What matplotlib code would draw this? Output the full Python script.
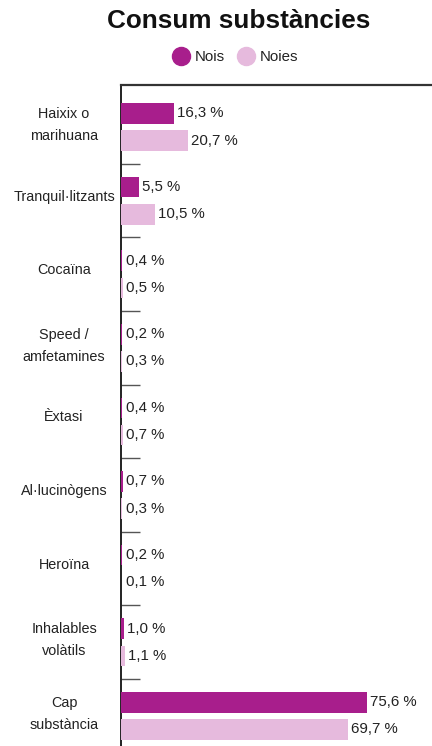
import matplotlib
matplotlib.use("Agg")
import matplotlib.pyplot as plt
import matplotlib.transforms as mtransforms
from matplotlib.lines import Line2D
import numpy as np

categories = ["Haixix o\nmarihuana", "Tranquil·litzants", "Cocaïna", "Speed /\namfetamines",
              "Èxtasi", "Al·lucinògens", "Heroïna", "Inhalables\nvolàtils", "Cap\nsubstància"]
nois = [16.3, 5.5, 0.4, 0.2, 0.4, 0.7, 0.2, 1.0, 75.6]
noies = [20.7, 10.5, 0.5, 0.3, 0.7, 0.3, 0.1, 1.1, 69.7]
series_names = ["Nois", "Noies"]
colors = ["#a81e8c", "#e6badd"]

plt.rcParams['font.family'] = ['Liberation Sans', 'DejaVu Sans']

W, H = 432, 746
fig = plt.figure(figsize=(W / 100, H / 100), dpi=100)
ax = fig.add_axes([121 / W, 0, 311 / W, (H - 85) / H])

y = np.arange(len(categories))
off = 0.185
bh = 0.28
ax.barh(y - off, nois, height=bh, color=colors[0], zorder=3)
ax.barh(y + off, noies, height=bh, color=colors[1], zorder=3)

xmax = 311 / 3.25
ax.set_xlim(0, xmax)
ax.set_ylim(8.41, -0.571)

pad_units = 3 / 3.25
for yi, v in zip(y - off, nois):
    ax.text(max(v, 0.6) + pad_units, yi, f"{v:.1f} %".replace(".", ","), va="center", ha="left",
            fontsize=10.8, color="#222222")
for yi, v in zip(y + off, noies):
    ax.text(max(v, 0.6) + pad_units, yi, f"{v:.1f} %".replace(".", ","), va="center", ha="left",
            fontsize=10.8, color="#222222")

# category labels
ax.set_yticks([])
for yi, cat in zip(y, categories):
    dy = 2 if "\n" in cat else 4
    tr = ax.get_yaxis_transform() + mtransforms.ScaledTranslation(-57 / 100, dy / 100,
                                                                  fig.dpi_scale_trans)
    ax.text(0, yi, cat, transform=tr, ha="center", va="center", fontsize=10.4,
            color="#222222", linespacing=1.75, multialignment="center")

ax.set_yticks(y[:-1] + 0.5, minor=True)
ax.tick_params(axis="y", which="minor", direction="in", length=14, width=1, color="#555555")
ax.set_xticks([])

for s in ["right", "bottom"]:
    ax.spines[s].set_visible(False)
ax.spines["left"].set_color("#222222")
ax.spines["left"].set_linewidth(1.4)
ax.spines["top"].set_color("#333333")
ax.spines["top"].set_linewidth(1.6)

fig.text(238.5 / W, 1 - 21 / H, "Consum substàncies", ha="center", va="center",
         fontsize=18.8, fontweight="bold", color="#111111")

handles = [Line2D([], [], marker="o", linestyle="none", markersize=13, color=c) for c in colors]
fig.legend(handles, series_names, loc="center", bbox_to_anchor=(236 / W, 1 - 57 / H),
           ncol=2, frameon=False, fontsize=10.8, handletextpad=0.4, columnspacing=0.9,
           handlelength=1.0, borderpad=0, labelcolor="#222222")

fig.savefig("out.png", dpi=100)
